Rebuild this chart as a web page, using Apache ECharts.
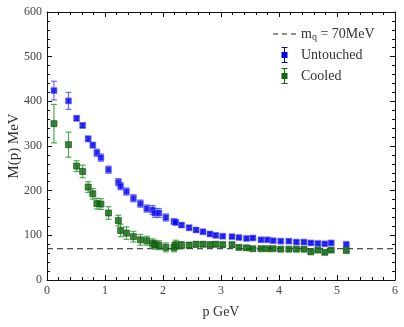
<!DOCTYPE html>
<html>
<head>
<meta charset="utf-8">
<script src="https://cdn.jsdelivr.net/npm/echarts/dist/echarts.min.js"></script>
<style>
  html, body { margin: 0; padding: 0; background: #fff; }
  #chart { width: 404px; height: 327px; }
</style>
</head>
<body>
<div id="chart"></div>
<script>
// momentum (GeV), shared by both data sets
var p = [0.12, 0.37, 0.51, 0.615, 0.71, 0.79, 0.86, 0.93, 1.06, 1.23, 1.27, 1.37, 1.49, 1.61, 1.72,
  1.82, 1.86, 1.93, 2.05, 2.19, 2.22, 2.32, 2.45, 2.57, 2.69, 2.81, 2.91, 3.03, 3.19, 3.31,
  3.44, 3.55, 3.69, 3.80, 3.90, 4.03, 4.17, 4.30, 4.43, 4.55, 4.67, 4.79, 4.90, 5.16];
var untouched = [424, 401, 362, 346, 316, 302, 285, 274, 247, 219, 210, 198, 183, 171, 160,
  157, 150, 150, 140, 131, 129, 123, 117, 112, 108, 103, 100, 98, 97, 95,
  93, 94, 90, 90, 88, 87, 87, 85, 85, 83, 82, 81, 83, 80];
var untouchedErr = [21, 19, 5, 5, 6, 6, 8, 8, 8, 8, 8, 8, 8, 8, 8,
  10, 10, 10, 8, 6, 6, 5, 5, 4, 4, 4, 4, 3, 3, 3,
  3, 3, 3, 3, 3, 3, 3, 3, 3, 3, 3, 3, 3, 3];
var cooled = [350, 303, 255, 243, 208, 193, 171, 170, 150, 133, 111, 105, 97, 90, 88,
  82, 79, 78, 73, 73, 79, 78, 78, 80, 80, 79, 80, 79, 79, 73,
  72, 70, 70, 70, 70, 69, 69, 69, 69, 63, 67, 62, 67, 66];
var cooledErr = [43, 28, 12, 14, 12, 12, 12, 12, 14, 12, 14, 14, 12, 12, 10,
  10, 10, 10, 10, 10, 10, 8, 6, 6, 5, 5, 5, 5, 5, 4,
  4, 3, 3, 3, 3, 3, 3, 3, 3, 3, 3, 3, 3, 3];
var mq = 70;
var xTicks = { min: 0, max: 6, interval: 1 };
var yTicks = { min: 0, max: 600, interval: 100 };

var serif = 'Liberation Serif';
var barIcon = 'path://M3,0H9V1H6.5V5H9V11H6.5V15H9V16H3V15H5.5V11H3V5H5.5V1H3Z';
var dashIcon = 'path://M0,0H5V1H0Z M9,0H14V1H9Z M18,0H23V1H18Z';

function points(ys) {
  return p.map(function(x, i) { return [x, ys[i]]; });
}
function bars(ys, es) {
  return p.map(function(x, i) { return [x, ys[i] - es[i], ys[i] + es[i]]; });
}
function errorBar(color) {
  return function(params, api) {
    var x = api.value(0);
    var lo = api.coord([x, api.value(1)]);
    var hi = api.coord([x, api.value(2)]);
    var st = { stroke: color, lineWidth: 1.2 };
    return {
      type: 'group',
      children: [
        { type: 'line', shape: { x1: lo[0], y1: lo[1], x2: hi[0], y2: hi[1] }, style: st },
        { type: 'line', shape: { x1: lo[0] - 3, y1: lo[1], x2: lo[0] + 3, y2: lo[1] }, style: st },
        { type: 'line', shape: { x1: hi[0] - 3, y1: hi[1], x2: hi[0] + 3, y2: hi[1] }, style: st }
      ]
    };
  };
}
function axis(t, pos, main) {
  return {
    type: 'value', position: pos, min: t.min, max: t.max, interval: t.interval,
    axisLine: { show: true, onZero: false, lineStyle: { color: '#111', width: 1 } },
    axisTick: { show: true, inside: true, length: 5, lineStyle: { color: '#111' } },
    minorTick: { show: true, splitNumber: 5, length: 3, lineStyle: { color: '#111' } },
    splitLine: { show: false },
    axisLabel: { show: main, fontFamily: serif, fontSize: 12, color: '#444', margin: 5 }
  };
}

var xBottom = axis(xTicks, 'bottom', true);
xBottom.name = 'p GeV';
xBottom.nameLocation = 'middle';
xBottom.nameGap = 25;
xBottom.nameTextStyle = { fontFamily: serif, fontSize: 14, color: '#333' };
var yLeft = axis(yTicks, 'left', true);
yLeft.name = 'M(p) MeV';
yLeft.nameLocation = 'middle';
yLeft.nameGap = 25;
yLeft.nameMoveOverlap = false;
yLeft.nameTextStyle = { fontFamily: serif, fontSize: 15, color: '#333' };

var chart = echarts.init(document.getElementById('chart'));
chart.setOption({
  animation: false,
  grid: { left: 47, right: 9, top: 12, bottom: 47, containLabel: false, outerBoundsMode: 'none' },
  xAxis: [xBottom, axis(xTicks, 'top', false)],
  yAxis: [yLeft, axis(yTicks, 'right', false)],
  legend: {
    orient: 'vertical', left: 268, top: 22, itemWidth: 23, itemHeight: 16, itemGap: 5,
    textStyle: {
      fontFamily: serif, fontSize: 14, color: '#333',
      rich: {
        a: { fontFamily: serif, fontSize: 14, color: '#333' },
        s: { fontFamily: serif, fontSize: 10, color: '#333', verticalAlign: 'bottom', padding: [6, 0, 0, 0] }
      }
    },
    data: [
      { name: 'mq', icon: dashIcon },
      { name: 'Untouched', icon: barIcon },
      { name: 'Cooled', icon: barIcon }
    ],
    formatter: function(name) {
      if (name === 'mq') return '{a|m}{s|q}{a| = ' + mq + 'MeV}';
      return name;
    }
  },
  series: [
    {
      name: 'mq', type: 'line', symbol: 'none', silent: true, z: 1,
      data: [[xTicks.min, mq], [xTicks.max, mq]],
      lineStyle: { color: '#222', width: 1, type: [6, 4] },
      itemStyle: { color: '#222' }
    },
    {
      name: 'Untouched', type: 'custom', z: 2,
      renderItem: errorBar('rgba(60,60,255,0.75)'),
      data: bars(untouched, untouchedErr),
      itemStyle: { color: '#0000ee' }
    },
    {
      name: 'Cooled', type: 'custom', z: 2,
      renderItem: errorBar('rgba(40,150,40,0.8)'),
      data: bars(cooled, cooledErr),
      itemStyle: { color: '#0a6a0a' }
    },
    {
      name: 'Untouched', type: 'scatter', symbol: 'rect', symbolSize: 6, z: 3,
      data: points(untouched),
      itemStyle: { color: '#0000ee', borderColor: 'rgba(110,110,255,0.7)', borderWidth: 1 }
    },
    {
      name: 'Cooled', type: 'scatter', symbol: 'rect', symbolSize: 6, z: 3,
      data: points(cooled),
      itemStyle: { color: '#0a6a0a', borderColor: 'rgba(20,70,20,0.8)', borderWidth: 1 }
    }
  ]
});
</script>
</body>
</html>
